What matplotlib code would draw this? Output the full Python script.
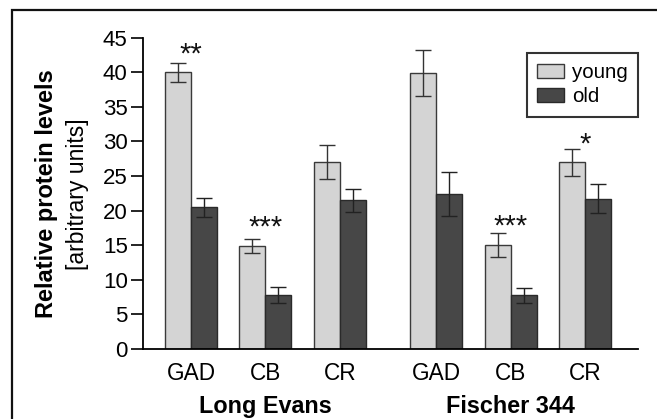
import matplotlib
matplotlib.use("Agg")
import matplotlib.pyplot as plt
import matplotlib.transforms as mtransforms
import numpy as np
from matplotlib.patches import Rectangle, Patch

plt.rcParams['font.family'] = ['Liberation Sans', 'DejaVu Sans']

# ---- data ----
strains = ["Long Evans", "Fischer 344"]
proteins = ["GAD", "CB", "CR"]
young = [40.0, 14.9, 27.0, 39.9, 15.0, 27.0]
young_err = [1.4, 1.0, 2.45, 3.3, 1.7, 1.95]
old = [20.5, 7.85, 21.5, 22.4, 7.75, 21.7]
old_err = [1.35, 1.15, 1.65, 3.2, 1.05, 2.1]
stars = ["**", "***", "", "", "***", "*"]
star_y = [43.9, 18.9, 0, 0, 19.0, 30.9]
yticks = [0, 5, 10, 15, 20, 25, 30, 35, 40, 45]

# ---- layout ----
W, H = 657, 419
fig = plt.figure(figsize=(W / 100, H / 100), dpi=100)
ax = fig.add_axes([143 / W, 1 - 349 / H, (638 - 143) / W, (349 - 37.7) / H])

group_gap = 1.3
pos = np.array([0, 1, 2, 2 + group_gap, 3 + group_gap, 4 + group_gap])
bw = 0.35
light = "#d4d4d4"
dark = "#474747"
edge = "#3a3a3a"

ax.bar(pos - bw / 2, young, bw, color=light, edgecolor=edge, linewidth=1.0, zorder=2)
ax.bar(pos + bw / 2, old, bw, color=dark, edgecolor="#2a2a2a", linewidth=1.0, zorder=2)
ax.errorbar(pos - bw / 2, young, yerr=young_err, fmt="none", ecolor="#333333",
            elinewidth=1.0, capsize=5.5, capthick=1.0, zorder=3)
ax.errorbar(pos + bw / 2, old, yerr=old_err, fmt="none", ecolor="#222222",
            elinewidth=1.0, capsize=5.5, capthick=1.0, zorder=3)

star_fs = 21
star_tr = mtransforms.offset_copy(ax.transData, fig=fig, x=0, y=-0.58 * star_fs,
                                  units="points")
for i, s in enumerate(stars):
    if s:
        ax.text(pos[i], star_y[i], s, ha="center", va="baseline", fontsize=star_fs,
                color="#111111", transform=star_tr)

ax.set_xlim(pos[0] - 0.645, pos[-1] + 0.71)
ax.set_ylim(0, 45)
ax.set_yticks(yticks)
ax.set_xticks(pos)
ax.set_xticklabels(proteins * 2)
ax.tick_params(axis="x", length=0, pad=9, labelsize=16.3)
ax.tick_params(axis="y", length=9, width=1.2, labelsize=16, pad=2)
for sp in ["top", "right"]:
    ax.spines[sp].set_visible(False)
for sp in ["left", "bottom"]:
    ax.spines[sp].set_linewidth(1.3)

trans = mtransforms.blended_transform_factory(ax.transData, ax.transAxes)
ax.text(pos[1], -64 / 311.3, strains[0], transform=trans, ha="center", va="baseline",
        fontsize=16.8, fontweight="bold")
ax.text(pos[4], -64 / 311.3, strains[1], transform=trans, ha="center", va="baseline",
        fontsize=16.8, fontweight="bold")

fig.text(47 / W, 1 - 194 / H, "Relative protein levels", rotation=90,
         ha="center", va="center", fontsize=17, fontweight="bold")
fig.text(77.5 / W, 1 - 194.5 / H, "[arbitrary units]", rotation=90,
         ha="center", va="center", fontsize=16.6)

handles = [Patch(facecolor=light, edgecolor=edge, linewidth=1.0, label="young"),
           Patch(facecolor=dark, edgecolor="#2a2a2a", linewidth=1.0, label="old")]
leg = ax.legend(handles=handles, loc="upper right", bbox_to_anchor=(638 / W, 1 - 53 / H),
                bbox_transform=fig.transFigure, fontsize=14.8, frameon=True,
                fancybox=False, borderpad=0.5, handlelength=1.3, handleheight=0.65,
                handletextpad=0.4, labelspacing=0.25, borderaxespad=0)
leg.get_frame().set_edgecolor("black")
leg.get_frame().set_linewidth(1.5)

fig.patches.append(Rectangle((11.5 / W, -0.1), 1.2, 1 - 10.5 / H + 0.1,
                             transform=fig.transFigure, fill=False,
                             edgecolor="#111111", linewidth=1.6))

fig.savefig("out.png", dpi=100)
